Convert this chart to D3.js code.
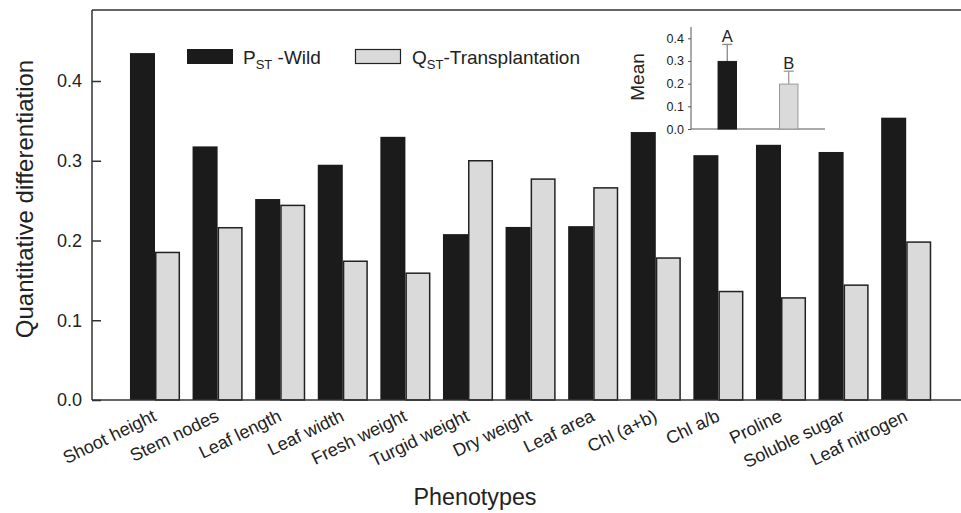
<!DOCTYPE html>
<html><head><meta charset="utf-8">
<script src="https://cdn.jsdelivr.net/npm/d3@7/dist/d3.min.js"></script>
<style>body{margin:0;background:#fff}svg{display:block;font-family:"Liberation Sans",Arial,sans-serif}</style>
</head><body>
<svg id="c" width="961" height="513"></svg>
<script>
const categories = ["Shoot height","Stem nodes","Leaf length","Leaf width","Fresh weight","Turgid weight","Dry weight","Leaf area","Chl (a+b)","Chl a/b","Proline","Soluble sugar","Leaf nitrogen"];
const pstWild = [0.435,0.318,0.252,0.295,0.330,0.208,0.217,0.218,0.336,0.307,0.320,0.311,0.354];
const qstTrans = [0.185,0.216,0.244,0.174,0.159,0.300,0.277,0.266,0.178,0.136,0.128,0.144,0.198];
const yTicks = [0.0,0.1,0.2,0.3,0.4];
const insetGroups = ["A","B"];
const insetMeans = [0.298,0.198];
const insetErr = [0.075,0.057];
const insetTicks = [0.0,0.1,0.2,0.3,0.4];

const svg = d3.select("#c");
const dark = "#1b1b1b", light = "#dadada", edge = "#222";

const y = d3.scaleLinear().domain([0,0.4]).range([400,81]);
const x = d3.scaleBand().domain(categories).range([123.7,937.5]).paddingInner(0.2).paddingOuter(0.1);
const xs = d3.scaleBand().domain(["w","q"]).range([0,x.bandwidth()]);

// bars
const g = svg.append("g");
categories.forEach((c,i)=>{
  g.append("rect").attr("x",x(c)+xs("w")).attr("y",y(pstWild[i])).attr("width",xs.bandwidth()).attr("height",y(0)-y(pstWild[i])).attr("fill",dark);
  g.append("rect").attr("x",x(c)+xs("q")+0.75).attr("y",y(qstTrans[i])).attr("width",xs.bandwidth()-1.5).attr("height",y(0)-y(qstTrans[i])).attr("fill",light).attr("stroke",edge).attr("stroke-width",1.5);
});

// frame lines
svg.append("line").attr("x1",92).attr("x2",961).attr("y1",10).attr("y2",10).attr("stroke","#333").attr("stroke-width",1.5);
svg.append("line").attr("x1",92).attr("x2",961).attr("y1",400).attr("y2",400).attr("stroke","#333").attr("stroke-width",1.5);

// y axis
const ya = svg.append("g").attr("transform","translate(92,0)")
  .call(d3.axisRight(y).tickValues(yTicks).tickFormat(d3.format(".1f")).tickSize(9).tickSizeOuter(0));
ya.select(".domain").remove();
svg.append("line").attr("x1",92).attr("x2",92).attr("y1",10).attr("y2",400).attr("stroke","#333").attr("stroke-width",1.5);
ya.selectAll(".tick line").attr("stroke","#333").attr("stroke-width",1.5);
ya.selectAll(".tick text").attr("x",-10).attr("text-anchor","end").attr("font-size",18).attr("fill","#222").attr("font-family","Liberation Sans, Arial, sans-serif");

// x labels
categories.forEach(c=>{
  const cx = x(c)+x.bandwidth()/2+2.5;
  svg.append("text").attr("transform",`translate(${cx},420) rotate(-26)`).attr("text-anchor","end")
    .attr("font-size",18).attr("fill","#222").text(c);
});

// axis titles
svg.append("text").attr("transform","translate(33,199) rotate(-90)").attr("text-anchor","middle").attr("font-size",24).attr("fill","#222").text("Quantitative differentiation");
svg.append("text").attr("x",475).attr("y",505).attr("text-anchor","middle").attr("font-size",23.3).attr("fill","#222").text("Phenotypes");

// legend
svg.append("rect").attr("x",187).attr("y",49).attr("width",46).attr("height",15).attr("fill",dark);
const t1 = svg.append("text").attr("x",243).attr("y",63.5).attr("font-size",19).attr("fill","#222");
t1.append("tspan").text("P");
t1.append("tspan").attr("font-size",13).attr("dy",5).text("ST");
t1.append("tspan").attr("dy",-5).text(" -Wild");
svg.append("rect").attr("x",355.5).attr("y",49.5).attr("width",45).attr("height",14).attr("fill",light).attr("stroke",edge).attr("stroke-width",1.2);
const t2 = svg.append("text").attr("x",412).attr("y",63.5).attr("font-size",19).attr("fill","#222");
t2.append("tspan").text("Q");
t2.append("tspan").attr("font-size",13).attr("dy",5).text("ST");
t2.append("tspan").attr("dy",-5).text("-Transplantation");

// inset
const iy = d3.scaleLinear().domain([0,0.4]).range([129,38.3]);
const ix = d3.scaleBand().domain(insetGroups).range([691,825]).paddingInner(0.7).paddingOuter(0.44);
const ig = svg.append("g");
const iya = ig.append("g").attr("transform","translate(691,0)")
  .call(d3.axisLeft(iy).tickValues(insetTicks).tickFormat(d3.format(".1f")).tickSize(3).tickSizeOuter(0));
iya.select(".domain").remove();
iya.selectAll(".tick line").attr("stroke","#555");
iya.selectAll(".tick text").attr("font-size",12.5).attr("fill","#222").attr("x",-7).attr("font-family","Liberation Sans, Arial, sans-serif");
ig.append("line").attr("x1",691).attr("x2",691).attr("y1",27).attr("y2",129).attr("stroke","#555").attr("stroke-width",1);
ig.append("line").attr("x1",691).attr("x2",825).attr("y1",129).attr("y2",129).attr("stroke","#555").attr("stroke-width",1);
insetGroups.forEach((gname,i)=>{
  const bx = ix(gname), bw = ix.bandwidth(), mx = bx+bw/2;
  const col = i===0? "#888":"#999";
  const top = iy(insetMeans[i]+insetErr[i]);
  ig.append("line").attr("x1",mx).attr("x2",mx).attr("y1",iy(insetMeans[i])).attr("y2",top).attr("stroke",col).attr("stroke-width",1.3);
  ig.append("line").attr("x1",mx-5).attr("x2",mx+5).attr("y1",top).attr("y2",top).attr("stroke",col).attr("stroke-width",1.3);
  ig.append("rect").attr("x",bx).attr("y",iy(insetMeans[i])).attr("width",bw).attr("height",129-iy(insetMeans[i]))
    .attr("fill",i===0?dark:light).attr("stroke",i===0?dark:"#999").attr("stroke-width",1);
  ig.append("text").attr("x",mx).attr("y",top-2).attr("text-anchor","middle").attr("font-size",16.5).attr("fill","#222").text(gname);
});
ig.append("text").attr("transform","translate(644,77) rotate(-90)").attr("text-anchor","middle").attr("font-size",19).attr("fill","#222").text("Mean");
</script>
</body></html>
